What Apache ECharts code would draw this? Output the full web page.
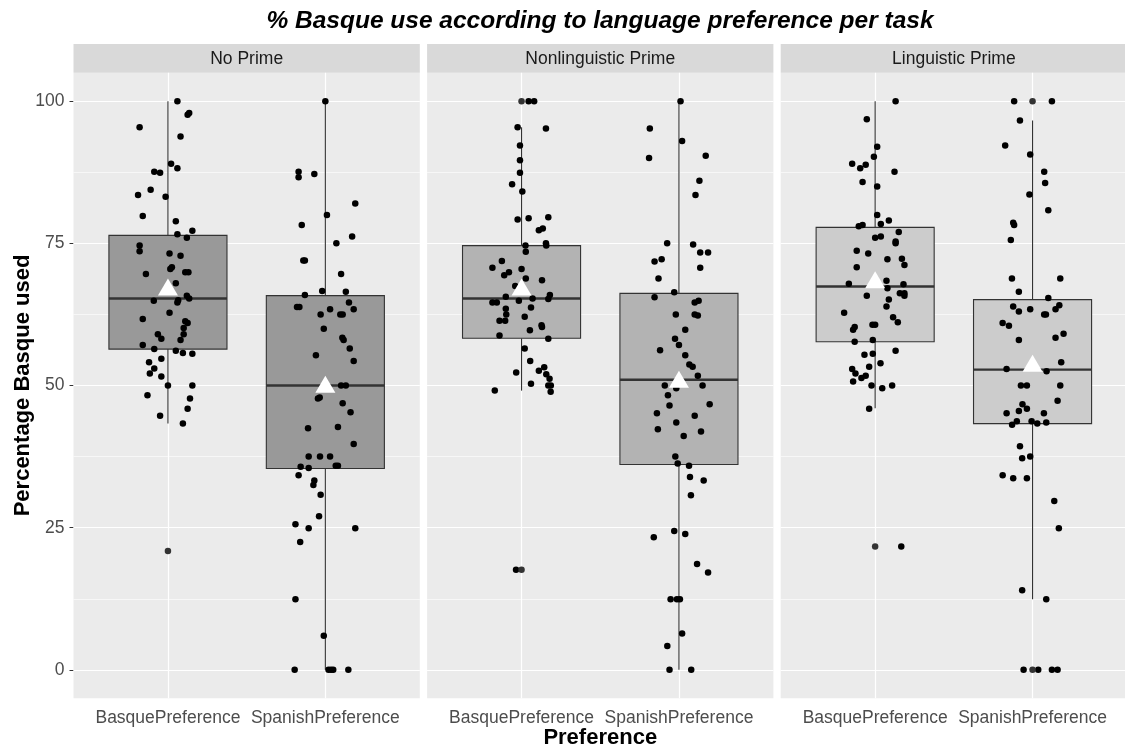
<!DOCTYPE html>
<html>
<head>
<meta charset="utf-8">
<script src="https://cdn.jsdelivr.net/npm/echarts@6/dist/echarts.min.js"></script>
<style>
html,body{margin:0;padding:0;background:#fff;}
#chart{width:1125px;height:749px;}
</style>
</head>
<body>
<div id="chart"></div>
<script>
// ---------- DATA ----------
const chartTitle = '% Basque use according to language preference per task';
const facets = ['No Prime', 'Nonlinguistic Prime', 'Linguistic Prime'];
const categories = ['BasquePreference', 'SpanishPreference'];
const yTicks = [0, 25, 50, 75, 100];
const yMinorLines = [12.5, 37.5, 62.5, 87.5];
const xLabel = 'Preference';
const yLabel = 'Percentage Basque used';

// jittered observations: [horizontal jitter (category units), percentage]
const noPrimeBasque = [[0.06,100],[0.135,97.9],[0.125,97.6],[-0.18,95.4],[0.08,93.8],[0.02,89.0],[0.06,88.2],[-0.087,87.6],[-0.05,87.4],[-0.11,84.4],[-0.19,83.5],[-0.015,83.2],[-0.16,79.8],[0.05,78.9],[0.155,77.2],[0.06,76.6],[0.12,76.0],[-0.18,74.6],[-0.18,73.6],[0.01,73.2],[0.08,72.8],[0.015,70.5],[0.025,70.8],[-0.14,69.6],[0.11,69.9],[0.13,69.9],[0.05,68.0],[0.12,65.8],[0.135,65.3],[-0.09,64.9],[0.065,65.0],[0.06,64.6],[0.01,62.8],[-0.16,61.7],[0.11,61.3],[0.125,61.0],[0.1,60.1],[-0.064,59.0],[-0.042,58.2],[0.1,59.0],[0.08,58.0],[-0.16,57.1],[-0.087,56.4],[0.05,56.1],[0.095,55.7],[0.155,55.6],[-0.042,54.7],[-0.12,54.1],[-0.087,53.0],[-0.115,52.1],[-0.042,51.6],[0.0,50.0],[0.155,50.0],[-0.13,48.3],[0.14,47.7],[0.125,45.9],[-0.05,44.7],[0.095,43.3]];
const noPrimeSpanish = [[0,100],[-0.17,87.6],[-0.17,86.6],[-0.07,87.2],[0.19,82.0],[0.01,80.0],[-0.15,78.2],[0.17,76.2],[0.07,75.0],[-0.14,72.0],[-0.13,72.0],[0.10,69.6],[-0.13,65.9],[-0.02,66.6],[0.13,66.5],[0.15,64.6],[-0.18,63.8],[-0.165,63.8],[0.03,63.4],[0.18,63.4],[-0.03,62.5],[0.095,62.5],[0.11,62.5],[-0.01,60.0],[0.108,58.4],[0.116,58.0],[0.155,56.5],[-0.06,55.3],[0.18,54.3],[0.10,50.0],[0.13,50.0],[-0.047,47.7],[-0.036,47.9],[0.11,46.9],[0.16,45.3],[-0.11,42.5],[0.08,42.7],[0.18,39.7],[-0.106,37.5],[-0.034,37.5],[0.03,37.5],[-0.157,35.7],[-0.106,35.5],[0.066,35.9],[0.08,35.9],[-0.17,34.2],[-0.07,33.3],[-0.076,32.5],[-0.03,30.8],[-0.04,27.0],[-0.19,25.6],[-0.106,24.9],[0.19,24.9],[-0.16,22.5],[-0.19,12.4],[-0.01,6.0],[-0.195,0],[0.02,0],[0.036,0],[0.05,0],[0.146,0]];
const nonlingBasque = [[0.045,100],[0.08,100],[-0.025,95.4],[0.155,95.2],[-0.01,92.2],[-0.01,89.6],[-0.01,87.4],[-0.06,85.4],[0.005,84.1],[-0.025,79.2],[0.045,79.4],[0.17,79.6],[0.11,77.3],[0.135,77.6],[0.025,74.6],[0.155,75.0],[0.157,74.6],[0.027,73.5],[-0.125,71.9],[-0.185,70.7],[0,70.5],[-0.08,69.9],[-0.11,69.4],[0.027,68.8],[0.13,68.5],[-0.04,67.5],[-0.10,65.6],[0.18,65.9],[0.17,65.2],[0.07,65.3],[-0.017,64.9],[-0.185,64.6],[-0.157,64.6],[-0.10,63.5],[0.06,63.7],[-0.097,62.5],[0.02,62.1],[-0.14,61.4],[-0.104,61.4],[0.127,60.6],[0.13,60.3],[0.053,59.7],[-0.14,58.8],[0.17,58.2],[0.02,56.5],[0.055,54.3],[-0.034,52.3],[0.11,52.6],[0.144,53.2],[0.157,52.0],[0.178,51.2],[0.06,50.3],[0.186,50.0],[0.17,50.0],[-0.17,49.1],[0.185,48.9],[-0.035,17.6]];
const nonlingSpanish = [[0.01,100],[-0.185,95.2],[0.02,93.0],[-0.19,90.0],[0.17,90.4],[0.13,86.0],[0.105,83.5],[-0.075,75.0],[0.09,74.8],[0.135,73.4],[0.185,73.4],[-0.155,71.8],[-0.11,72.2],[0.135,70.7],[-0.13,68.8],[-0.03,66.4],[-0.155,65.5],[0.1,64.6],[0.125,64.9],[-0.02,62.5],[0.1,62.5],[0.12,62.3],[0.04,59.8],[-0.025,58.2],[0,57.1],[-0.12,56.2],[0.04,55.3],[0.066,53.7],[0.087,53.3],[0.12,51.7],[-0.09,50.0],[0.15,50.0],[-0.017,49.5],[-0.07,48.3],[-0.06,46.5],[0.195,46.7],[-0.14,45.1],[0.10,44.7],[-0.017,43.5],[-0.134,42.3],[0.14,41.9],[0.03,41.1],[-0.023,37.5],[-0.008,36.3],[0.064,35.9],[0.07,33.9],[0.157,33.3],[0.076,30.7],[-0.03,24.4],[0.04,23.9],[-0.16,23.3],[0.115,18.6],[0.185,17.1],[-0.053,12.4],[-0.013,12.4],[0.006,12.4],[0.02,6.4],[-0.074,4.2],[-0.06,0],[0.078,0]];
const lingBasque = [[0.13,100],[-0.053,96.8],[0.013,92.0],[-0.008,90.2],[-0.146,89.0],[-0.095,88.2],[-0.06,88.8],[0.123,87.6],[-0.08,85.8],[0.013,85.0],[0.013,80.0],[0.087,79.0],[-0.104,78.0],[-0.08,78.2],[0.036,78.4],[0.15,77.0],[0,76.0],[0.036,76.2],[0.13,75.3],[0.13,75.0],[-0.117,73.7],[-0.044,73.2],[0.078,72.2],[0.17,72.3],[0.186,71.2],[-0.117,70.8],[-0.167,67.9],[0.072,68.4],[0.078,67.1],[0.18,67.8],[0.157,66.2],[0.186,66.2],[0.186,65.8],[-0.053,65.8],[0.087,65.1],[0.072,63.9],[-0.197,62.8],[0.114,62.0],[0.144,61.1],[-0.017,60.7],[0,60.7],[-0.13,60.3],[-0.14,59.8],[-0.015,58.0],[-0.13,57.7],[0.13,56.1],[-0.068,55.4],[-0.015,55.6],[0.034,53.9],[-0.146,52.9],[-0.125,52.1],[-0.038,53.3],[-0.087,51.3],[-0.06,51.7],[-0.14,50.7],[-0.023,50.0],[0.045,49.5],[0.108,50.0],[-0.038,45.9],[0.166,21.7]];
const lingSpanish = [[-0.117,100],[0.123,100],[-0.08,96.6],[-0.174,92.2],[-0.015,90.6],[0.074,87.6],[0.08,85.6],[-0.02,83.6],[0.10,80.8],[-0.123,78.6],[-0.117,78.2],[-0.138,75.6],[-0.131,68.8],[0.176,68.8],[-0.087,66.5],[0.10,65.4],[-0.123,63.9],[-0.087,63.0],[-0.015,63.4],[0.074,62.5],[0.085,62.5],[0.146,63.4],[0.17,64.1],[-0.19,61.0],[-0.15,60.5],[-0.087,58.0],[0.146,58.4],[0.197,59.1],[-0.165,52.9],[0.089,52.5],[0.182,54.1],[-0.074,50.0],[-0.036,50.0],[0.176,50.0],[-0.064,46.7],[-0.165,45.1],[-0.087,45.5],[-0.036,45.9],[0.072,45.1],[0.159,47.3],[-0.13,43.1],[-0.1,43.7],[-0.006,43.7],[0.03,43.3],[0.087,43.5],[-0.08,39.3],[-0.066,37.2],[-0.015,37.5],[-0.19,34.2],[-0.123,33.7],[-0.036,33.7],[0.138,29.7],[0.167,24.9],[-0.066,14.0],[0.087,12.4],[-0.057,0],[0.036,0],[0.123,0],[0.159,0]];

// boxplot outliers (drawn at category centre)
const noPrimeBasqueOutliers = [20.9];
const noPrimeSpanishOutliers = [];
const nonlingBasqueOutliers = [100, 17.6];
const nonlingSpanishOutliers = [];
const lingBasqueOutliers = [21.7];
const lingSpanishOutliers = [100, 0];

// box statistics: [lower whisker, Q1, median, Q3, upper whisker]
const noPrimeBasqueBox = [43.3, 56.4, 65.3, 76.4, 100];
const noPrimeSpanishBox = [0, 35.4, 50.0, 65.8, 100];
const nonlingBasqueBox = [49.1, 58.3, 65.3, 74.6, 95.4];
const nonlingSpanishBox = [0, 36.1, 51.0, 66.2, 100];
const lingBasqueBox = [46.0, 57.7, 67.4, 77.8, 100];
const lingSpanishBox = [12.4, 43.3, 52.8, 65.1, 96.6];

// group means [Basque, Spanish]
const noPrimeMeans = [67.3, 50.2];
const nonlingMeans = [67.3, 51.1];
const lingMeans = [68.6, 53.9];

// ---------- LAYOUT / STYLE ----------
const boxFills = ['#999999', '#b3b3b3', '#cccccc'];
const PANEL_LEFT = 73.5, PANEL_STEP = 353.6, PANEL_W = 346.3;
const PANEL_TOP = 72.7, PANEL_H = 625.6, STRIP_TOP = 44;
const FONT = '"Liberation Sans", Arial, sans-serif';

const panels = [
  {points: [noPrimeBasque, noPrimeSpanish], outliers: [noPrimeBasqueOutliers, noPrimeSpanishOutliers], boxes: [noPrimeBasqueBox, noPrimeSpanishBox], means: noPrimeMeans},
  {points: [nonlingBasque, nonlingSpanish], outliers: [nonlingBasqueOutliers, nonlingSpanishOutliers], boxes: [nonlingBasqueBox, nonlingSpanishBox], means: nonlingMeans},
  {points: [lingBasque, lingSpanish], outliers: [lingBasqueOutliers, lingSpanishOutliers], boxes: [lingBasqueBox, lingSpanishBox], means: lingMeans}
];

const grids = [], xAxes = [], yAxes = [], series = [], graphics = [];

panels.forEach((p, i) => {
  const left = PANEL_LEFT + i * PANEL_STEP;
  grids.push({left: left, top: PANEL_TOP, width: PANEL_W, height: PANEL_H, show: true,
    backgroundColor: '#ebebeb', borderWidth: 0, containLabel: false, outerBoundsMode: 'none'});
  xAxes.push({
    type: 'value', gridIndex: i, min: 0.4, max: 2.6,
    axisLine: {show: false},
    axisTick: {show: true, customValues: [1, 2], length: 4, lineStyle: {color: '#333333', width: 1}},
    axisLabel: {show: true, customValues: [1, 2], margin: 11, color: '#4d4d4d', fontSize: 17.5, fontFamily: FONT,
      formatter: v => categories[Math.round(v) - 1] || ''},
    splitLine: {show: false},
    name: i === 1 ? xLabel : '', nameLocation: 'middle', nameGap: 29, nameMoveOverlap: false,
    nameTextStyle: {fontSize: 22, fontWeight: 'bold', color: '#000', fontFamily: FONT}
  });
  yAxes.push({
    type: 'value', gridIndex: i, min: -5, max: 105,
    axisLine: {show: false},
    axisTick: {show: i === 0, customValues: yTicks, length: 4, lineStyle: {color: '#333333', width: 1}},
    axisLabel: {show: i === 0, customValues: yTicks, margin: 9, color: '#4d4d4d', fontSize: 17.5, fontFamily: FONT},
    splitLine: {show: false},
    name: i === 0 ? yLabel : '', nameLocation: 'middle', nameGap: 40, nameRotate: 90, nameMoveOverlap: false,
    nameTextStyle: {fontSize: 22, fontWeight: 'bold', color: '#000', fontFamily: FONT}
  });

  // boxes
  const boxData = p.boxes.map((b, k) => [k + 1].concat(b));
  series.push({
    type: 'custom', xAxisIndex: i, yAxisIndex: i, z: 2, silent: true,
    data: boxData,
    renderItem: (params, api) => {
      const x = api.value(0), lo = api.value(1), q1 = api.value(2), md = api.value(3), q3 = api.value(4), hi = api.value(5);
      const hw = 0.375;
      const tl = api.coord([x - hw, q3]), br = api.coord([x + hw, q1]);
      const mL = api.coord([x - hw, md]), mR = api.coord([x + hw, md]);
      const pHi = api.coord([x, hi]), pQ3 = api.coord([x, q3]), pQ1 = api.coord([x, q1]), pLo = api.coord([x, lo]);
      const ls = {stroke: '#333333', lineWidth: 1.1};
      return {type: 'group', children: [
        {type: 'line', shape: {x1: pHi[0], y1: pHi[1], x2: pQ3[0], y2: pQ3[1]}, style: ls},
        {type: 'line', shape: {x1: pLo[0], y1: pLo[1], x2: pQ1[0], y2: pQ1[1]}, style: ls},
        {type: 'rect', shape: {x: tl[0], y: tl[1], width: br[0] - tl[0], height: br[1] - tl[1]},
          style: {fill: boxFills[i], stroke: '#333333', lineWidth: 1.1}},
        {type: 'line', shape: {x1: mL[0], y1: mL[1], x2: mR[0], y2: mR[1]}, style: {stroke: '#333333', lineWidth: 2.4}}
      ]};
    }
  });

  // jittered points with grid lines as markLines
  const pts = [];
  p.points.forEach((arr, k) => arr.forEach(d => pts.push([k + 1 + d[0], d[1]])));
  const mlData = [];
  yMinorLines.forEach(v => mlData.push({yAxis: v, lineStyle: {width: 0.6}}));
  yTicks.forEach(v => mlData.push({yAxis: v, lineStyle: {width: 1.2}}));
  [1, 2].forEach(v => mlData.push({xAxis: v, lineStyle: {width: 1.2}}));
  series.push({
    type: 'scatter', xAxisIndex: i, yAxisIndex: i, z: 3, silent: true,
    symbol: 'circle', symbolSize: 6.5, itemStyle: {color: '#000000', opacity: 1},
    data: pts,
    markLine: {silent: true, z: 1, symbol: 'none', label: {show: false}, animation: false,
      lineStyle: {color: '#ffffff', type: 'solid', width: 1.2, opacity: 1}, emphasis: {disabled: true},
      data: mlData}
  });
  const outs = [];
  p.outliers.forEach((arr, k) => arr.forEach(v => outs.push([k + 1, v])));
  series.push({
    type: 'scatter', xAxisIndex: i, yAxisIndex: i, z: 3, silent: true,
    symbol: 'circle', symbolSize: 6.5, itemStyle: {color: '#333333', opacity: 1},
    data: outs
  });
  // means
  series.push({
    type: 'scatter', xAxisIndex: i, yAxisIndex: i, z: 4, silent: true,
    symbol: 'triangle', symbolSize: [20, 17], itemStyle: {color: '#ffffff', opacity: 1},
    data: p.means.map((m, k) => [k + 1, m])
  });

  // strip
  graphics.push({type: 'rect', left: left, top: STRIP_TOP, shape: {width: PANEL_W, height: PANEL_TOP - STRIP_TOP},
    style: {fill: '#d9d9d9'}, silent: true});
  graphics.push({type: 'text', x: left + PANEL_W / 2, y: (STRIP_TOP + PANEL_TOP) / 2 + 1,
    style: {text: facets[i], fill: '#1a1a1a', font: '17.5px ' + FONT, textAlign: 'center', textVerticalAlign: 'middle'}, silent: true});
});

graphics.push({type: 'text', x: 600, y: 21.5,
  style: {text: chartTitle, fill: '#000', font: 'italic bold 24.5px ' + FONT, textAlign: 'center', textVerticalAlign: 'middle'}, silent: true});

const chart = echarts.init(document.getElementById('chart'), null, {renderer: 'canvas'});
chart.setOption({
  animation: false,
  backgroundColor: '#ffffff',
  grid: grids, xAxis: xAxes, yAxis: yAxes, series: series,
  graphic: {elements: graphics}
});
</script>
</body>
</html>
